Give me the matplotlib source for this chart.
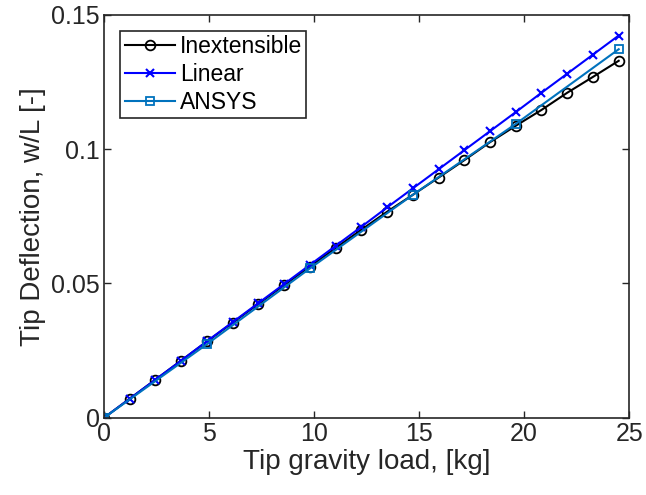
import matplotlib.pyplot as plt

plt.rcParams['font.family'] = ['Liberation Sans', 'DejaVu Sans']

# load points [kg]
load = [0, 1.225, 2.45, 3.675, 4.9, 6.125, 7.35, 8.575, 9.8, 11.025, 12.25,
        13.475, 14.7, 15.925, 17.15, 18.375, 19.6, 20.825, 22.05, 23.275, 24.5]
inextensible = [0, 0.0071, 0.0142, 0.0213, 0.0284, 0.0354, 0.0424, 0.0494,
                0.0563, 0.0632, 0.0700, 0.0767, 0.0830, 0.0894, 0.0959,
                0.1026, 0.1087, 0.1146, 0.1210, 0.1269, 0.1329]
linear = [0, 0.0071, 0.0142, 0.0213, 0.0285, 0.0356, 0.0427, 0.0498, 0.0569,
          0.0640, 0.0711, 0.0783, 0.0854, 0.0925, 0.0996, 0.1067, 0.1138,
          0.1210, 0.1281, 0.1352, 0.1423]
ansys_load = [0, 4.9, 9.8, 14.7, 19.6, 24.5]
ansys = [0, 0.0274, 0.0556, 0.0830, 0.1094, 0.1372]

fig = plt.figure(figsize=(6.46, 4.95), dpi=100)
ax = fig.add_axes([0.161, 0.156, 0.813, 0.814])

ax.plot(load, inextensible, '-o', color='k', lw=1.5, ms=7, mfc='none', mew=1.3, label='Inextensible')
ax.plot(load, linear, '-x', color=(0, 0, 1), lw=1.5, ms=6, mew=1.5, label='Linear')
ax.plot(ansys_load, ansys, '-s', color=(0, 0.447, 0.741), lw=1.5, ms=6, mfc='none', mew=1.3, label='ANSYS')

ax.set_xlim(0, 25)
ax.set_ylim(0, 0.15)
ax.set_xticks([0, 5, 10, 15, 20, 25])
ax.set_yticks([0, 0.05, 0.1, 0.15])
ax.set_yticklabels(['0', '0.05', '0.1', '0.15'])
ax.tick_params(direction='in', top=True, right=True, length=5, width=1,
               labelsize=18, colors='0.15', pad=3)
for s in ax.spines.values():
    s.set_color('0.15')
    s.set_linewidth(1.2)

ax.set_xlabel('Tip gravity load, [kg]', fontsize=20, color='0.15', labelpad=2)
ax.set_ylabel('Tip Deflection, w/L [-]', fontsize=20, color='0.15', labelpad=4)

leg = ax.legend(loc='upper left', fontsize=16.5, fancybox=False, framealpha=1,
                edgecolor='0.15', handlelength=2.2, handletextpad=0.2,
                borderpad=0.2, labelspacing=0.2, borderaxespad=0.7)
leg.get_frame().set_linewidth(1.2)

fig.savefig('out.png', dpi=100)
